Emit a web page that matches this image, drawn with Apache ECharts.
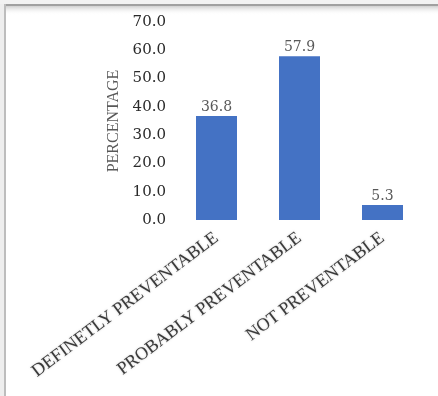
<!DOCTYPE html>
<html>
<head>
<meta charset="utf-8">
<script src="https://cdn.jsdelivr.net/npm/echarts@6/dist/echarts.min.js"></script>
<style>html,body{margin:0;padding:0;background:#fff}#c{width:438px;height:396px}</style>
</head>
<body>
<div id="c"></div>
<script>
const categories = ['DEFINETLY PREVENTABLE', 'PROBABLY PREVENTABLE', 'NOT PREVENTABLE'];
const percentages = [36.8, 57.9, 5.3];
const yTicks = [0, 10, 20, 30, 40, 50, 60, 70];
const yAxisTitle = 'PERCENTAGE';

const chart = echarts.init(document.getElementById('c'), null, {renderer: 'canvas'});
chart.setOption({
  backgroundColor: '#ffffff',
  animation: false,
  graphic: [
    {type: 'rect', left: 0, top: 0, shape: {width: 438, height: 4}, style: {fill: '#f2f2f2'}},
    {type: 'rect', left: 0, top: 4, shape: {width: 438, height: 2}, style: {fill: '#a0a0a0'}},
    {type: 'rect', left: 0, top: 6, shape: {width: 438, height: 9},
      style: {fill: new echarts.graphic.LinearGradient(0, 0, 0, 1, [{offset: 0, color: '#cfcfcf'}, {offset: 1, color: 'rgba(255,255,255,0)'}])}},
    {type: 'rect', left: 0, top: 4, shape: {width: 4, height: 392}, style: {fill: '#eeeeee'}},
    {type: 'rect', left: 4, top: 4, shape: {width: 2, height: 392}, style: {fill: '#bdbdbd'}}
  ],
  grid: {left: 175, right: 14, top: 22, bottom: 176, containLabel: false, outerBoundsMode: 'none'},
  xAxis: {
    type: 'category',
    data: categories,
    axisLine: {show: false},
    axisTick: {show: false},
    axisLabel: {
      interval: 0, rotate: 37, margin: 16,
      color: '#3a3a3a', fontFamily: 'Liberation Serif', fontSize: 18,
      textShadowColor: 'rgba(0,0,0,0.25)', textShadowBlur: 2
    }
  },
  yAxis: {
    type: 'value',
    min: yTicks[0], max: yTicks[yTicks.length - 1], interval: 10,
    name: yAxisTitle,
    nameLocation: 'middle',
    nameGap: 53,
    nameTextStyle: {color: '#595959', fontFamily: 'Liberation Serif', fontSize: 16},
    axisLine: {show: false},
    axisTick: {show: false},
    splitLine: {show: false},
    axisLabel: {
      margin: 9, color: '#2a2a2a', fontFamily: 'DejaVu Serif', fontSize: 15,
      formatter: v => v.toFixed(1)
    }
  },
  series: [{
    type: 'bar',
    data: percentages,
    barWidth: 41,
    itemStyle: {color: '#4472c4'},
    label: {
      show: true, position: 'top', distance: 2,
      color: '#595959', fontFamily: 'DejaVu Serif', fontSize: 14,
      formatter: p => p.value.toFixed(1)
    }
  }]
});
</script>
</body>
</html>
